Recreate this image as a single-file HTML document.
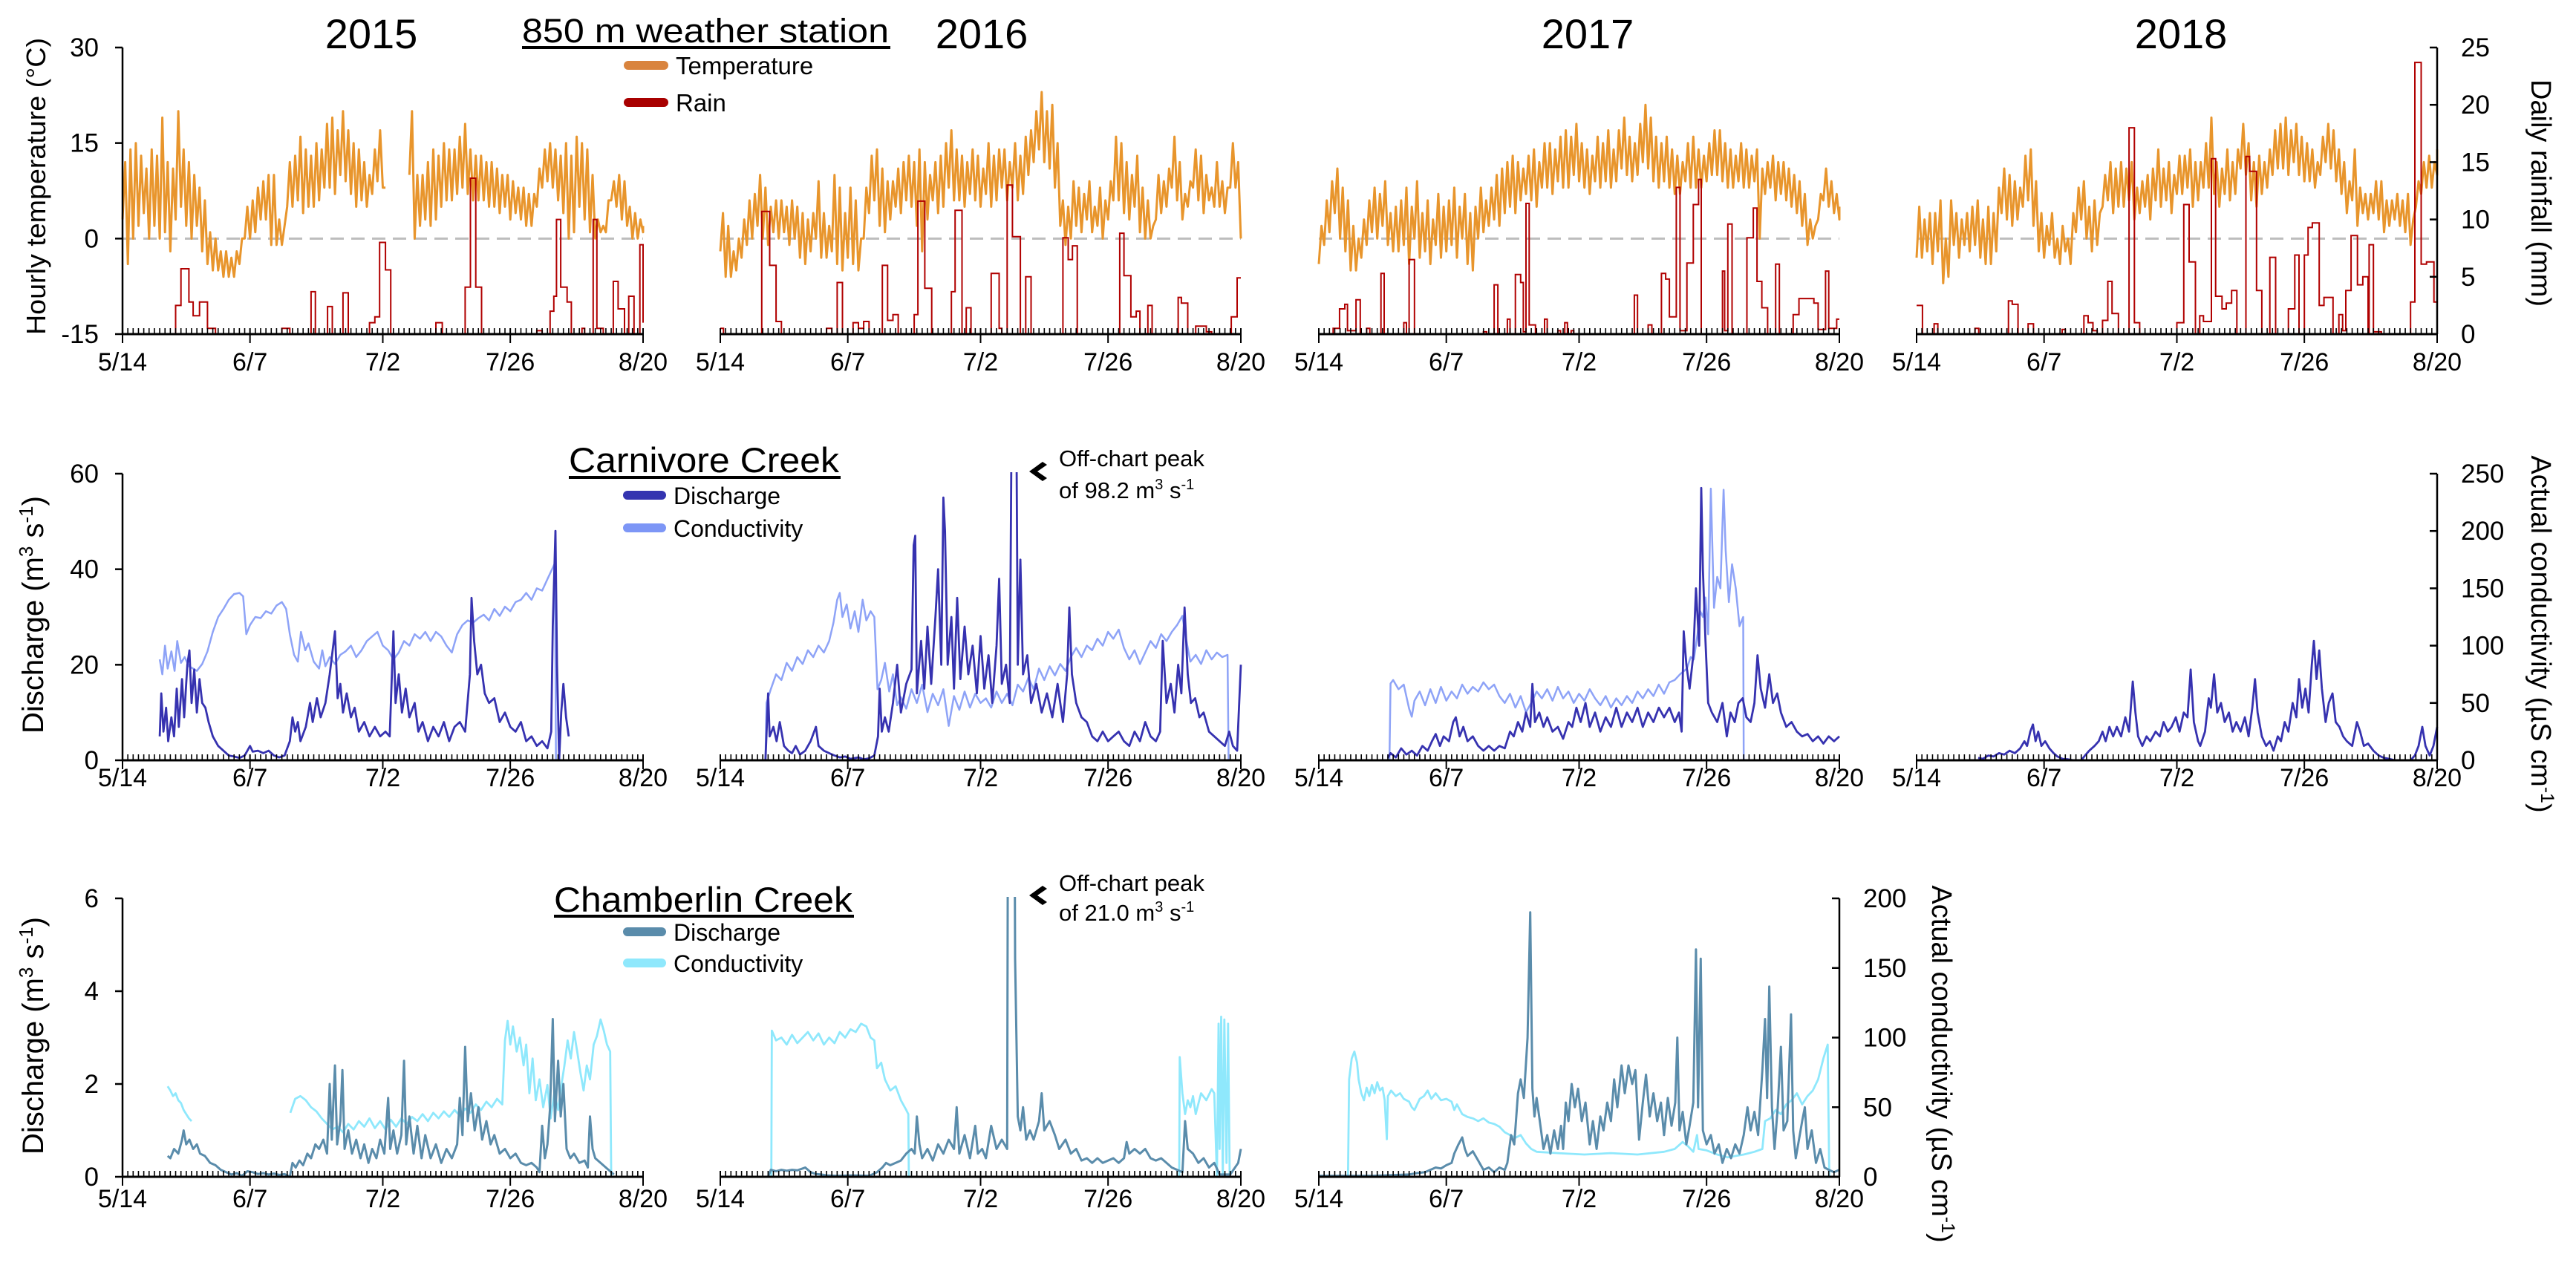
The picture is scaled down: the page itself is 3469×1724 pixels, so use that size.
<!DOCTYPE html>
<html><head><meta charset="utf-8">
<style>
html,body{margin:0;padding:0;background:#fff;}
svg{display:block;font-family:"Liberation Sans",Arial,sans-serif;}
</style></head>
<body>
<svg id="chart" width="3469" height="1724" viewBox="0 0 3469 1724" xmlns="http://www.w3.org/2000/svg">
<rect width="3469" height="1724" fill="#fff"/>
<g id="static">
<text x="500" y="65" font-size="56" text-anchor="middle">2015</text>
<text x="1322" y="65" font-size="56" text-anchor="middle">2016</text>
<text x="2138" y="65" font-size="56" text-anchor="middle">2017</text>
<text x="2937" y="65" font-size="56" text-anchor="middle">2018</text>
<text x="703" y="57" font-size="45" textLength="494" lengthAdjust="spacingAndGlyphs">850 m weather station</text>
<rect x="703" y="62" width="496" height="4" fill="#000"/>
<rect x="840" y="82" width="60" height="12" rx="6" fill="#d9843e"/>
<text x="910" y="100" font-size="33">Temperature</text>
<rect x="840" y="132" width="60" height="12" rx="6" fill="#a80000"/>
<text x="910" y="150" font-size="33">Rain</text>

<text x="766" y="636" font-size="47" textLength="364" lengthAdjust="spacingAndGlyphs">Carnivore Creek</text>
<rect x="766" y="641" width="366" height="4" fill="#000"/>
<rect x="839" y="661" width="58" height="12" rx="6" fill="#3434b0"/>
<text x="907" y="679" font-size="32">Discharge</text>
<rect x="839" y="705" width="58" height="12" rx="6" fill="#7d96f6"/>
<text x="907" y="723" font-size="32">Conductivity</text>
<polygon points="1404,622 1386,635 1404,648 1410,644 1397,635 1410,626" fill="#000"/>
<text x="1426" y="628" font-size="31">Off-chart peak</text>
<text x="1426" y="671" font-size="31">of 98.2 m<tspan font-size="20" dy="-12">3</tspan><tspan dy="12"> s</tspan><tspan font-size="20" dy="-12">-1</tspan></text>

<text x="746" y="1228" font-size="47" textLength="402" lengthAdjust="spacingAndGlyphs">Chamberlin Creek</text>
<rect x="746" y="1232" width="404" height="4" fill="#000"/>
<rect x="839" y="1249" width="58" height="12" rx="6" fill="#5a8cab"/>
<text x="907" y="1267" font-size="32">Discharge</text>
<rect x="839" y="1291" width="58" height="12" rx="6" fill="#8fe8fc"/>
<text x="907" y="1309" font-size="32">Conductivity</text>
<polygon points="1404,1193 1386,1206 1404,1219 1410,1215 1397,1206 1410,1197" fill="#000"/>
<text x="1426" y="1200" font-size="31">Off-chart peak</text>
<text x="1426" y="1240" font-size="31">of 21.0 m<tspan font-size="20" dy="-12">3</tspan><tspan dy="12"> s</tspan><tspan font-size="20" dy="-12">-1</tspan></text>

<text transform="translate(61,251) rotate(-90)" font-size="36" text-anchor="middle" textLength="400" lengthAdjust="spacingAndGlyphs">Hourly temperature (°C)</text>
<text transform="translate(58,828) rotate(-90)" font-size="40" text-anchor="middle">Discharge (m<tspan font-size="26" dy="-14">3</tspan><tspan dy="14"> s</tspan><tspan font-size="26" dy="-14">-1</tspan><tspan dy="14">)</tspan></text>
<text transform="translate(58,1395) rotate(-90)" font-size="40" text-anchor="middle">Discharge (m<tspan font-size="26" dy="-14">3</tspan><tspan dy="14"> s</tspan><tspan font-size="26" dy="-14">-1</tspan><tspan dy="14">)</tspan></text>
<text transform="translate(3409,260) rotate(90)" font-size="38" text-anchor="middle">Daily rainfall (mm)</text>
<text transform="translate(3409,854) rotate(90)" font-size="38" text-anchor="middle">Actual conductivity (µS cm<tspan font-size="25" dy="-13">-1</tspan><tspan dy="13">)</tspan></text>
<text transform="translate(2602,1433) rotate(90)" font-size="38" text-anchor="middle">Actual conductivity (µS cm<tspan font-size="25" dy="-13">-1</tspan><tspan dy="13">)</tspan></text>
</g>
<g id="plots"></g>
</svg>
<script>
// ---------- axis data ----------
const dateTickDays = [0, 24, 49, 73, 98];
const dateTickLabels = ["5/14", "6/7", "7/2", "7/26", "8/20"];
const tempTicks = [-15, 0, 15, 30];
const rainTicks = [0, 5, 10, 15, 20, 25];
const carnDischargeTicks = [0, 20, 40, 60];
const carnCondTicks = [0, 50, 100, 150, 200, 250];
const chamDischargeTicks = [0, 2, 4, 6];
const chamCondTicks = [0, 50, 100, 150, 200];

// ---------- temperature: daily high / low (°C), day 0 = 5/14 ----------
const tempHi2015 = [12,14,15,13,11,14,13,19,12,11,20,14,12,10,8,6, 1,0,-2,-2,-3,-2,0, 5,6,8,9,10,10,3,2, 12,13,16,14,13,15,14,18,19, 17,20,17,15,14,12,10,14,17,8, null,null,null,null, 20,10,10,12,14,13,15,14,14,16,18,14,13, 13,12,12,11,10,10,9,8,8,7,7,11, 14,15,14,13,15,13,16,15,14,10, 3,2,6,9,10,9,5,4,3,2];
const tempLo2015 = [3,-4,0,2,4,0,2,0,1,-2,3,5,2,0,2,-2, -4,-5,-5,-6,-6,-6,-4, 0,0,1,3,3,-1,-1,-1, 5,5,6,4,5,5,6,8,8, 7,10,9,7,5,6,5,7,9,8, null,null,null,null, 10,0,2,3,2,3,5,6,6,7,8,7,6, 6,6,5,5,4,5,3,4,3,2,2,5, 8,9,8,6,4,0,1,5,3,1, 0,1,1,6,5,3,2,0,0,1];
const tempHi2016 = [4,2,-2,0,3, 6,7,10,8,5,6,6,5,6,5, 4,3,4,9,4,2, 10,8,4,8,6,0, 8,13,14,11,9,9,11,12, 13,12,14,12,10,12,13,15,17,14, 13,12,14,13,11,15,13,14,14,12, 15,13,16,17,20,23,20,21,15, 6,5,9,8,7,9,5,8,6,9,16, 15,12,10,13,8,6,2,10,9,11, 16,12,7,9,14,13,10,8,12,9,8,15,12,0];
const tempLo2016 = [-2,-6,-6,-5,-3, -1,0,2,0,-1,1,0,1,-1,0, -3,-4,-2,0,-3,-3, -2,-4,-5,-3,-4,-5, 0,4,6,2,1,3,5,4, 6,5,2,-2,3,6,4,5,8,6, 6,5,7,6,5,7,5,6,8,6, 8,6,7,10,12,14,12,11,8, 2,-1,0,2,1,3,1,2,0,3,6, 6,4,3,5,1,0,0,3,4,5, 8,6,3,5,8,6,4,6,5,5,4,8,8,0];
const tempHi2017 = [2,6,9,11, 8,6,2,0,3,6,8,7,9,4,5, 6,8,5,9,4,6,3,7,5,6, 8,5,7,4,5,8, 6,8,10,11,12,13,12,11,13,14,12,15, 15,14,16,17,16,18,15,14,13,16,15,17, 14,17,19,16,15,18,21,19,16,15,16, 14,13,12,15,16,14,13,15,17,17, 15,14,13,15,14,13,14,11,12,13, 12,12,11,10,9,7,3,2,7,11,9,7,5];
const tempLo2017 = [-4,-1,1,4, 0,-2,-5,-5,-3,-1,1,0,2,-1,-2, -2,-1,-4,0,-3,-2,-4,-1,-3,-2, -1,-3,0,-4,-5,0, 1,2,3,2,4,5,4,6,7,6,5,8, 8,7,9,8,8,10,9,8,7,9,8,9, 8,9,11,10,9,10,12,11,9,8,9, 8,7,7,9,8,8,8,9,10,10, 9,8,8,9,8,8,9,0,7,8, 6,7,6,5,4,2,-1,0,3,6,5,4,3];
const tempHi2018 = [5,3,4,4,6,0,6,4,3,4,5,6,3,5,4, 8,11,10,9,8,13,14,9, 4,2,4,0,2,0,4, 8,9,5,6,4, 10,12,11,12,11,12,8,9,10,11, 14,11,12,10,13,13,14,12,12,15, 19,12,11,14,12,14,18,15,12, 13,12,14,17,18,19,17,18,16, 15,14,12,16,18,17,14,12, 9,14,8,7,7,9,9,6, 6,7,6,7,3, 9,12,13,12,14];
const tempLo2018 = [-3,-3,-2,-4,-2,-7,-6,-1,-3,-1,-2,-1,-3,-4,-4, -2,4,3,2,3,5,6,2, -2,-3,-1,-3,-4,-2,-4, 1,3,0,-2,-1, 5,6,4,5,5,6,3,4,5,3, 6,5,6,4,7,7,8,5,6,8, 8,7,5,7,6,7,11,10,6, 5,7,8,10,11,11,10,12,10, 9,9,8,10,12,11,9,7, 4,6,2,4,3,4,3,1, 2,3,2,1,-1, 5,7,8,8,10];

// ---------- rain: [start day, daily rainfall mm] steps ----------
const rain2015 = [[0,0],[10,2.5],[11,5.7],[12.5,2.8],[13.3,1.6],[14.5,2.8],[16,0.5],[17.5,0],[30,0.5],[31.5,0],[35.5,3.7],[36.3,0],[38.6,2.4],[39.5,0],[41.5,3.6],[42.5,0],[46.5,1],[47.5,1.5],[48.4,8],[49.5,5.6],[50.5,0],[59,1],[60.2,0],[64.5,4.1],[65.5,13.6],[66.5,4.1],[67.6,0],[78,0.3],[79,0],[80.5,2],[81.2,3.3],[81.7,10],[82.5,4.1],[83.7,2.8],[84.5,0],[86.5,0.5],[87,0],[88.6,10],[89.3,0.5],[90.5,0],[92.4,4.6],[93.3,2.2],[94.5,0],[95.3,3.3],[96.3,0],[97.4,7.8],[98,1]];
const rain2016 = [[0,0.5],[0.6,0],[7.8,10.7],[9.3,6],[10.5,1.1],[11.5,0],[20,0.5],[21,0],[22,4.5],[23,0],[25,1],[26,0.5],[27,1.1],[28,0],[30.5,6],[31.5,1.2],[32.5,1.7],[33.5,0],[36.5,1.7],[37.2,11.6],[38.5,4],[39.8,0],[43.5,3.7],[44.2,10.8],[45.5,0],[46.3,2.3],[47.2,0],[51,5.3],[52.5,0.5],[53,0],[54,13],[55,8.5],[56.5,0],[57.5,5],[58.5,0],[64.5,8.4],[65.5,6.5],[66.3,7.7],[67.2,0],[75.2,8.8],[76,5.1],[77.3,1.5],[78.3,2],[79,0],[80.5,2.5],[81.3,0],[86.2,3.2],[86.8,2.7],[88,0],[89.5,0.7],[91.5,0.2],[92.5,0],[96.2,1.5],[97.3,4.9],[98,4.9]];
const rain2017 = [[0,0],[2.7,0.5],[3.9,2.2],[4.9,2.6],[5.4,0.3],[7,3],[7.8,0],[9,0.5],[9.6,0],[11.7,5.3],[12.3,0],[16,1],[16.5,0],[17,6.5],[18,0],[31,0.2],[31.6,0],[33,4.3],[33.7,0],[35.5,1.3],[36,0],[37,5.2],[38,4.5],[38.5,0.2],[39,11.4],[39.6,0.8],[40.8,0],[42.5,1.3],[43,0],[45,0.3],[45.5,0],[46.3,1],[46.8,0],[47.5,0.3],[48,0],[59.4,3.4],[60,0],[62,0.8],[62.7,0],[64.5,5.3],[65.3,4.8],[66,1.5],[67.3,12.8],[68,0.3],[69.3,6.2],[70.5,11.3],[71.5,13.5],[72,0],[76,5.5],[76.4,0.3],[77,9.6],[77.8,0],[80.6,8.4],[81.8,11],[82.5,4.6],[83.4,2.3],[84.5,0],[86,6.1],[86.7,0],[89.3,1.7],[90.4,3.1],[93.2,2.7],[94,0.4],[95.4,5.5],[96,0.5],[97.5,1.3],[98,1.3]];
const rain2018 = [[0,2.5],[1.1,0],[3.3,0.9],[4,0],[11,0.5],[11.7,0],[17.3,2.9],[18,2.6],[19.1,0],[21,0.9],[22,0],[27.4,0.4],[28,0],[31.5,1.6],[32.3,1],[33.2,0.3],[34,0],[35,1.2],[36,4.6],[36.8,1.8],[38,0],[40,18],[41,1],[42,0],[49,1],[50.3,11.3],[51.3,6.3],[52.5,0],[53.3,1.6],[54,1.1],[55.5,15.3],[56.3,3.3],[57.5,2.2],[58.3,2.7],[59.3,3.8],[60.3,0],[62,15.5],[62.7,14.2],[64,3.8],[65,0],[66.5,6.7],[67.6,0],[70,2.2],[71.2,6.9],[72,0],[73,6.9],[73.7,9.3],[74.5,9.7],[75.8,2.5],[76.7,3.2],[78.4,0],[79.5,1.7],[80.2,0.3],[80.8,3.8],[81.8,8.6],[83,4.3],[84,5],[85,0],[85.2,7.8],[86,0.2],[87.5,0],[93,2.8],[93.8,23.7],[95,6.1],[96,6.3],[97.4,2.8],[98,2.8]];

// ---------- Carnivore Creek: [day, discharge m3/s] and [day, conductivity µS/cm] ----------
const carnQ2015 = [[7,5],[7.3,14],[7.7,6],[8.2,11],[8.6,4],[9.2,9],[9.7,5],[10.2,15],[10.6,7],[11.2,17],[11.6,9],[12.2,20],[12.6,23],[13,12],[13.5,19],[14,10],[14.5,17],[15,12],[15.6,11],[16.2,8],[17,5],[18,3],[19,2],[20,1],[21,0.8],[22,0.5],[23,1],[24,3],[24.5,1.8],[25.5,2],[26.5,1.5],[27.5,2],[28.5,1],[29.5,0.6],[30.5,1],[31.5,4],[32,9],[32.5,6],[33,8],[33.5,4],[34.5,7],[35.3,12],[35.8,8],[36.6,13],[37.3,9],[38.2,12],[39,18],[40,27],[40.5,13],[41,16],[41.5,10],[42.2,14],[43,9],[43.7,11],[44.5,6],[45.5,8],[46.5,5],[47.5,7],[48.5,5],[49.5,6],[50.3,5],[51,27],[51.4,12],[52,18],[52.6,10],[53.3,15],[54,9],[55,12],[55.7,6],[56.5,8],[57.5,4],[58.5,7],[59.5,5],[60.5,8],[61.5,4],[62.5,7],[63.5,8],[64.5,6],[65.4,18],[65.7,34],[66.2,25],[66.8,18],[67.5,20],[68.2,14],[69,12],[70,13],[71,8],[72,10],[73,7],[74,6],[75,8],[76,4],[77,5],[78,3],[79,4],[80,2.5],[80.7,6],[81,28],[81.5,48],[81.8,20],[82.2,0],[82.6,10],[83,16],[83.5,9],[84,5]];
const carnC2015 = [[7,88],[7.5,75],[8,100],[8.5,80],[9.2,95],[9.8,78],[10.3,104],[11,85],[11.7,90],[12.5,82],[13.3,80],[14,78],[15,84],[16,95],[17,112],[18,125],[19,132],[20,140],[21,145],[22,146],[22.7,143],[23.3,110],[24,118],[25,125],[26,124],[27,130],[28,128],[29,135],[30,138],[30.8,132],[31.5,110],[32.3,92],[33,86],[33.6,112],[34.4,96],[35,102],[36,86],[37,80],[37.6,96],[38.2,82],[39,90],[40,84],[41,92],[42,95],[43,100],[44,90],[45,96],[46,104],[47,108],[48,112],[49,100],[50,96],[51,88],[52,94],[53,104],[54,100],[55,110],[56,106],[57,112],[58,104],[59,112],[60,108],[61,100],[62,94],[63,110],[64,118],[65,122],[66,120],[67,124],[68,127],[69,122],[70,132],[71,126],[72,134],[73,130],[74,138],[75,140],[76,146],[77,140],[78,150],[79,148],[80,158],[81,168],[81.4,172],[81.6,0],[98,0]];
const carnQ2016 = [[0,0],[8.5,0],[9,14],[9.3,5],[10,7],[10.6,4],[11.2,8],[12,3],[12.8,2],[13.5,1.5],[14.2,3],[15,1.2],[16,2],[17,4],[18,7],[18.5,3],[19.5,2],[20.5,1.5],[21.5,1],[22.5,0.6],[23.5,0.8],[24.5,0.3],[26,0.6],[27,0.2],[28,0.4],[29,1],[29.7,5],[30,15],[30.4,6],[31,9],[31.7,6],[32.5,12],[33.3,20],[34,10],[35,16],[36,19],[36.4,45],[36.7,47],[37,14],[37.8,25],[38.4,15],[39,28],[39.7,16],[40.5,30],[41,40],[41.6,20],[42,55],[42.3,48],[42.8,20],[43.5,30],[44,15],[44.6,34],[45.2,17],[46,28],[46.7,18],[47.5,24],[48.3,14],[49,26],[49.7,15],[50.5,22],[51.2,12],[52,24],[52.5,38],[53,16],[53.8,20],[54.5,12],[55,98.2],[55.6,98.2],[56,20],[56.5,42],[57,18],[57.8,22],[58.5,12],[59.5,16],[60.5,10],[61.5,14],[62.5,9],[63.5,16],[64.5,8],[65.3,18],[65.7,32],[66.2,18],[67,12],[68,9],[69,8],[70,5],[71,4],[72,6],[73,4],[74,5],[75,6],[76,4],[77,3],[78,6],[79,4],[80,8],[81,5],[82,4],[82.8,6],[83.3,25],[84,12],[84.8,16],[85.5,10],[86.2,20],[86.8,14],[87.4,32],[88,18],[88.6,12],[89.4,13],[90.2,9],[91,10],[92,6],[93,5],[94,4],[95,3],[95.8,6],[96.5,3],[97.3,2],[98,20]];
const carnC2016 = [[0,0],[8.5,0],[8.7,50],[9.5,62],[10.5,75],[11.5,70],[12.5,85],[13.5,78],[14.5,90],[15.5,84],[16.5,96],[17.5,90],[18.5,100],[19.5,94],[20.5,104],[21.3,120],[22,140],[22.5,146],[23,125],[23.8,136],[24.5,115],[25.3,130],[26,112],[26.8,140],[27.5,122],[28.3,130],[29,125],[29.6,62],[30.3,70],[31,85],[31.8,60],[32.5,75],[33.3,48],[34,55],[35,45],[36,62],[37,50],[38,66],[39,42],[40,58],[41,48],[42,62],[43,30],[44,56],[45,44],[46,60],[47,46],[48,58],[49,50],[50,54],[51,46],[52,60],[53,50],[54,58],[55,48],[56,66],[57,60],[58,72],[59,62],[60,80],[61,70],[62,82],[63,74],[64,84],[65,78],[66,90],[67,98],[68,90],[69,100],[70,96],[71,106],[72,100],[73,112],[74,106],[75,114],[76,98],[77,88],[78,96],[79,84],[80,94],[81,104],[82,98],[83,110],[84,104],[85,112],[86,118],[87,126],[87.6,108],[88.5,86],[89.5,92],[90.5,84],[91.5,96],[92.5,88],[93.5,94],[94.5,90],[95.5,92],[95.7,0],[98,0]];
const carnQ2017 = [[13,0.5],[13.5,1.5],[14.5,0.6],[15.5,2.5],[16.5,1.2],[17.5,2],[18.5,1],[19.5,3],[20.5,2],[21.3,4],[22,5.5],[22.8,3],[23.5,5],[24.5,4],[25.3,8],[25.8,9],[26.5,5],[27.2,7],[28,4],[29,5],[30,3],[31,2],[32,3],[33,2],[34,3],[35,2.5],[36,6],[36.7,5],[37.5,8],[38.3,6],[39,10],[39.8,7],[40.2,16],[40.7,8],[41.5,10],[42.3,7],[43,9],[44,6],[45,7],[46,4.5],[47,8],[47.7,7],[48.5,11],[49.3,8],[50.2,12],[51,7],[52,10],[53,6],[54,9],[55,7],[56,11],[57,7],[58,10],[59,8],[60,11],[61,7],[62,10],[63,8],[64,11],[65,9],[66,11],[67,8],[67.8,10],[68.3,6],[68.7,27],[69.2,20],[69.8,15],[70.5,22],[71,36],[71.6,24],[72,57],[72.3,40],[72.8,25],[73.3,12],[74,10],[75,8],[76,12],[76.8,5],[77.5,10],[78.3,8],[79,12],[79.8,13],[80.5,9],[81.3,8],[82,12],[82.6,22],[83.2,15],[84,11],[84.8,18],[85.5,12],[86.3,14],[87,10],[88,7],[89,8],[90,6],[91,5],[92,5.5],[93,4],[94,5],[95,3.5],[96,5],[97,4],[98,5]];
const carnC2017 = [[0,0],[13.3,0],[13.5,67],[14,70],[15,62],[16,66],[17,45],[17.5,38],[18,52],[19,60],[20,48],[21,62],[22,50],[23,64],[24,52],[25,60],[26,54],[27,66],[28,58],[29,64],[30,60],[31,68],[32,62],[33,66],[34,56],[35,50],[36,58],[37,46],[38,56],[39,42],[40,50],[41,60],[42,54],[43,62],[44,52],[45,64],[46,54],[47,60],[48,50],[49,58],[50,52],[51,62],[52,54],[53,48],[54,56],[55,46],[56,54],[57,48],[58,56],[59,50],[60,60],[61,54],[62,62],[63,56],[64,66],[65,58],[66,68],[67,70],[68,75],[69.3,80],[70,90],[70.6,88],[71.3,110],[71.8,130],[72.3,125],[72.8,142],[73.3,110],[73.8,237],[74.4,133],[75,160],[75.6,150],[76.2,236],[76.6,183],[77.2,138],[77.8,171],[78.5,150],[79.2,117],[79.9,125],[80,0],[98,0]];
const carnQ2018 = [[11.6,0.5],[12.5,0.3],[13.5,1],[14.5,0.8],[15.5,1.5],[16.5,1.2],[17.5,2],[18.5,1.5],[19.5,2.5],[20.3,4],[20.8,3],[21.4,6],[21.9,7.5],[22.4,4],[22.9,6],[23.5,3],[24.2,4],[25,2.5],[25.8,1.5],[26.5,0.8],[27.5,0.3],[28.5,0.2],[29.5,0],[31,0],[31.7,1],[32.5,2],[33.5,3],[34.3,4],[35,6],[35.6,4],[36.3,7],[37,5],[37.7,7],[38.5,5],[39.3,9],[40,6],[40.7,16.5],[41.2,10],[41.7,5],[42.5,3],[43.3,5],[44,4],[45,6],[45.8,5],[46.5,8],[47.3,6],[48,7],[48.8,9],[49.5,6],[50.3,10],[51,9],[51.6,19],[52.2,8],[53,4],[53.4,3],[54.3,6],[55,13],[55.4,11],[56,18],[56.6,10],[57.3,12],[58,8],[58.8,10],[59.5,6],[60.2,8],[61,6],[61.8,9],[62.5,5],[63.2,11],[63.7,17],[64.2,10],[65,5],[65.8,3],[66.5,4],[67.2,2],[68,5],[68.6,4],[69.3,8],[70,6],[70.8,12],[71.5,9],[72,17],[72.6,11],[73.2,15],[73.8,10],[74.4,20],[74.8,25],[75.3,17],[75.8,23],[76.3,15],[77,8],[77.6,12],[78.3,14],[78.9,8],[79.6,7],[80.3,5],[81,4],[82,3],[82.9,8],[83.5,6],[84.2,3],[85,3.5],[86,2],[87,1],[88,0.5],[89,0.3],[90,0],[93,0],[93.8,1],[94.5,3],[95.2,7],[95.8,3],[96.6,1],[97.3,3],[98,7]];

// ---------- Chamberlin Creek ----------
const chamQ2015 = [[8.5,0.45],[9,0.4],[9.7,0.6],[10.5,0.5],[11.2,0.8],[11.5,1.0],[12,0.7],[12.6,0.8],[13.3,0.6],[14,0.7],[14.6,0.5],[15.5,0.45],[16.5,0.3],[17.5,0.25],[18.5,0.15],[19.5,0.1],[20.5,0.05],[21.5,0.08],[22.5,0.02],[23.5,0.12],[24.5,0.1],[25.5,0.06],[26.5,0.08],[27.5,0.05],[28.5,0.07],[29.5,0.04],[30.5,0.06],[31.5,0],[32,0.3],[32.6,0.2],[33.3,0.35],[34,0.25],[34.8,0.5],[35.5,0.4],[36.3,0.7],[37,0.6],[37.8,0.8],[38.5,0.5],[39,2.0],[39.4,0.8],[40,2.4],[40.4,0.7],[41,1.2],[41.4,2.3],[41.8,0.6],[42.5,1.0],[43.2,0.5],[44,0.8],[44.8,0.4],[45.5,0.7],[46.3,0.3],[47,0.6],[47.8,0.4],[48.5,0.8],[49.3,0.5],[50,1.7],[50.4,0.6],[51,1.0],[51.7,0.5],[52.5,0.9],[53,2.5],[53.4,0.7],[54,1.3],[54.8,0.5],[55.5,1.1],[56.3,0.4],[57,0.9],[58,0.4],[59,0.7],[60,0.3],[61,0.6],[62,0.4],[63,0.7],[63.5,1.7],[64,0.9],[64.5,2.8],[65,1.2],[65.6,1.8],[66.3,1.0],[67,1.5],[67.7,0.8],[68.5,1.2],[69.3,0.7],[70,0.9],[71,0.5],[72,0.6],[73,0.4],[74,0.5],[75,0.3],[76,0.25],[77,0.3],[78,0.2],[78.5,0.1],[79,1.1],[79.5,0.4],[80,0.7],[80.5,1.5],[81,3.4],[81.4,1.2],[82,2.5],[82.5,1.3],[83,2.0],[83.6,0.6],[84.3,0.4],[85,0.5],[86,0.3],[87,0.35],[87.6,0.2],[88,1.3],[88.5,0.6],[89,0.4],[90,0.3],[91,0.2],[92,0.1],[92.5,0.05]];
const chamC2015 = [[8.5,65],[9,62],[9.5,58],[10,60],[10.5,55],[11,53],[11.5,48],[12,45],[12.5,42],[13,40],[13.2,null],[31.5,null],[31.6,46],[32.5,56],[33.5,58],[34.5,55],[35.5,50],[36.5,47],[37.5,42],[38.5,38],[39.5,34],[40.5,36],[41.5,32],[42.5,38],[43.5,34],[44.5,40],[45.5,36],[46.5,42],[47.5,35],[48.5,40],[49.5,34],[50.5,41],[51.5,36],[52.5,42],[53.5,38],[54.5,43],[55.5,40],[56.5,45],[57.5,40],[58.5,46],[59.5,42],[60.5,47],[61.5,43],[62.5,48],[63.5,44],[64.5,49],[65.5,46],[66.5,52],[67.5,48],[68.5,54],[69.5,50],[70.5,56],[71.5,52],[72,98],[72.5,112],[73,95],[73.5,108],[74.2,90],[74.8,100],[75.5,80],[76,95],[76.6,60],[77.2,85],[77.8,55],[78.5,70],[79.2,50],[80,66],[80.6,42],[81.3,60],[82,48],[82.6,65],[83.2,80],[83.8,98],[84.4,85],[85,104],[85.6,90],[86.2,75],[86.8,62],[87.4,80],[88,70],[88.7,95],[89.3,101],[90,113],[90.6,105],[91.2,95],[91.8,90],[92,0],[98,0]];
const chamQ2016 = [[0,0],[9,0],[9.5,0.15],[10.5,0.12],[11.5,0.15],[12.5,0.13],[13.5,0.15],[14.5,0.14],[15.5,0.18],[16,0.2],[17,0.1],[18,0.06],[19,0.05],[20,0.03],[22,0.02],[25,0.03],[28,0.02],[29.5,0.1],[30.5,0.2],[31.2,0.3],[32,0.25],[33,0.3],[34,0.35],[35,0.5],[36,0.6],[36.6,0.5],[37,1.3],[37.5,0.7],[38,0.4],[39,0.6],[40,0.35],[41,0.7],[42,0.5],[43,0.8],[44,0.6],[44.5,1.5],[45,0.5],[46,0.9],[47,0.4],[48,1.1],[48.5,0.5],[49.3,0.6],[50,0.4],[51,1.1],[52,0.6],[53,0.8],[54,0.6],[54.4,21.0],[55,21.0],[55.5,4.7],[56,1.3],[56.5,1.0],[57,1.5],[57.6,0.8],[58.3,1.0],[59,0.8],[60,1.2],[60.5,1.8],[61,1.0],[62,1.2],[63,0.9],[63.8,0.6],[65,0.8],[66,0.5],[67,0.6],[68,0.35],[69,0.4],[70,0.3],[71,0.4],[72,0.3],[73,0.35],[74,0.4],[75,0.3],[76,0.4],[76.5,0.75],[77,0.5],[78,0.6],[79,0.5],[80,0.6],[81,0.4],[82,0.35],[83,0.4],[84,0.3],[85,0.2],[86,0.15],[87,0.1],[87.5,1.2],[88,0.6],[89,0.5],[90,0.3],[91,0.4],[92,0.2],[93,0.3],[94,0.05],[96,0.05],[97.5,0.3],[98,0.6]];
const chamC2016 = [[0,0],[9.6,0],[9.7,105],[10.5,98],[11.5,100],[12.5,95],[13.5,102],[14.5,96],[15.5,100],[16.5,104],[17.5,98],[18.5,103],[19.5,95],[20.5,100],[21.5,96],[22.5,104],[23.5,100],[24.5,106],[25.5,104],[26.5,110],[27.5,108],[28.3,100],[29,98],[29.5,78],[30.3,82],[31,70],[32,62],[33,65],[34,55],[35,48],[35.4,45],[35.5,0],[86.4,0],[86.5,86],[87,60],[87.5,45],[88,55],[88.5,50],[89,58],[89.5,45],[90.5,60],[91.5,55],[92.5,63],[93,60],[93.5,0],[93.8,110],[94,20],[94.3,115],[94.6,0],[94.9,113],[95.3,10],[95.6,110],[95.9,0],[98,0]];
const chamQ2017 = [[0,0.02],[10,0.02],[17,0.05],[18.5,0.08],[20,0.1],[21,0.15],[22,0.2],[23,0.18],[24,0.25],[25,0.3],[25.5,0.5],[26.3,0.7],[27,0.85],[27.5,0.6],[28,0.45],[29,0.55],[30,0.35],[31,0.15],[32,0.2],[33,0.1],[34,0.2],[35,0.15],[35.5,0.3],[36.2,0.9],[36.8,0.7],[37.5,1.8],[38,2.1],[38.6,1.7],[39.3,3.0],[39.8,5.7],[40.2,1.9],[40.6,1.3],[41,1.7],[41.6,1.2],[42.3,0.6],[43,0.9],[43.6,0.5],[44.3,1.0],[45,0.6],[45.6,1.1],[46,0.6],[46.5,1.6],[47,1.2],[47.6,2.0],[48.2,1.5],[48.8,1.9],[49.5,1.2],[50.2,1.6],[51,0.7],[51.6,1.2],[52.3,0.6],[53,1.3],[53.6,1.0],[54.3,1.6],[55,1.2],[55.6,2.1],[56.2,1.5],[57,2.4],[57.6,1.8],[58.3,2.4],[59,2.0],[59.6,2.3],[60.3,0.8],[61,1.6],[61.6,2.2],[62.3,1.3],[63,1.8],[63.7,1.2],[64.4,1.6],[65,0.9],[65.7,1.7],[66.4,1.1],[67.1,1.6],[67.5,3.0],[67.9,1.0],[68.5,1.4],[69.2,0.7],[69.8,1.1],[70.5,1.6],[71,4.9],[71.4,1.5],[71.9,4.7],[72.3,1.0],[73,0.7],[73.8,0.9],[74.5,0.5],[75.3,0.7],[76,0.3],[76.8,0.6],[77.6,0.4],[78.4,0.7],[79.2,0.5],[80,0.9],[80.7,1.5],[81.3,1.0],[82,1.4],[82.7,0.9],[83.5,2.3],[84,3.4],[84.4,1.7],[84.8,4.1],[85.3,1.5],[85.8,0.6],[86.4,1.5],[87,2.8],[87.5,1.0],[88.2,1.2],[88.9,3.5],[89.3,1.0],[89.8,0.4],[90.4,0.8],[91,1.2],[91.5,1.5],[92,0.6],[92.8,1.0],[93.6,0.3],[94.4,0.6],[95.2,0.2],[96,0.15],[97,0.1],[98,0.15]];
const chamC2017 = [[0,0],[5.5,0],[5.7,70],[6.2,85],[6.7,90],[7.2,82],[7.5,70],[8,60],[8.5,55],[9,64],[9.5,58],[10,66],[10.5,60],[11,68],[11.5,62],[12,64],[12.4,55],[12.8,27],[13,58],[13.6,62],[14.5,58],[15.3,60],[16,56],[17,54],[17.5,50],[18,48],[19,56],[19.8,58],[20.5,62],[21.2,56],[22,60],[23,55],[24,56],[25,54],[25.5,48],[26,52],[27,45],[28,43],[29,42],[30,40],[31,42],[32,39],[33,38],[34,36],[35,32],[36,30],[37,28],[38,30],[39,24],[40,20],[41,18],[45,17],[50,16],[55,17],[60,16],[65,18],[67,20],[68.5,25],[69.5,22],[70.5,18],[71.2,30],[71.5,20],[73,19],[75,16],[77,14],[80,16],[82,18],[83.5,20],[84,40],[85,42],[86,48],[87,45],[88,52],[89,55],[90,60],[91,52],[92,58],[93,62],[94,70],[95,85],[95.8,95],[96.1,0],[98,0]];

// ---------- layout ----------
const NS = "http://www.w3.org/2000/svg";
const plots = document.getElementById("plots");
const PANEL_LEFT = [165, 970, 1776, 2581];
const PANEL_W = 701;
const ROWS = [{top:64,bot:450},{top:638,bot:1024},{top:1210,bot:1585}];
const YEARS = ["2015","2016","2017","2018"];

function mk(tag, attrs, parent){
  const e = document.createElementNS(NS, tag);
  for (const k in attrs) e.setAttribute(k, attrs[k]);
  (parent||plots).appendChild(e);
  return e;
}
function xScale(p){ return d => PANEL_LEFT[p] + d/98*PANEL_W; }
function yScale(r, min, max){ const R = ROWS[r]; return v => R.bot - (v-min)/(max-min)*(R.bot-R.top); }

function clipFor(r,p){
  const id = "clip"+r+"_"+p;
  let defs = document.getElementById("defs");
  if(!defs){ defs = mk("defs",{id:"defs"}); }
  const cp = mk("clipPath",{id:id},defs);
  mk("rect",{x:PANEL_LEFT[p]-2,y:ROWS[r].top-2,width:PANEL_W+4,height:ROWS[r].bot-ROWS[r].top+4},cp);
  return "url(#"+id+")";
}

function drawPairs(pairs, xs, ys, color, width, clip, name){
  let d = ""; let pen = false;
  for (const [t,v] of pairs){
    if (v === null){ pen = false; continue; }
    d += (pen ? "L" : "M") + xs(t).toFixed(1) + "," + ys(v).toFixed(1);
    pen = true;
  }
  const el = mk("path",{d:d,fill:"none",stroke:color,"stroke-width":width,"stroke-linejoin":"round","clip-path":clip});
  
  
  return el;
}

function drawTemp(hi, lo, xs, ys, clip, name){
  let d = ""; let pen = false;
  for (let i=0;i<hi.length;i++){
    if (hi[i]===null || lo[i]===null){ pen=false; continue; }
    d += (pen?"L":"M") + xs(i).toFixed(1)+","+ys(lo[i]).toFixed(1);
    pen = true;
    const t2 = Math.min(i+0.5, 98);
    d += "L" + xs(t2).toFixed(1)+","+ys(hi[i]).toFixed(1);
  }
  const el = mk("path",{d:d,fill:"none",stroke:"#e8952c","stroke-width":3,"stroke-linejoin":"round","clip-path":clip});
  
  
}

function drawSteps(steps, xs, ys, clip, name){
  let d = "";
  for (let i=0;i<steps.length;i++){
    const [t,v] = steps[i];
    const tn = i+1<steps.length ? steps[i+1][0] : 98;
    d += (i===0?"M":"L") + xs(t).toFixed(1)+","+ys(v).toFixed(1) + "L"+xs(tn).toFixed(1)+","+ys(v).toFixed(1);
  }
  const el = mk("path",{d:d,fill:"none",stroke:"#b00000","stroke-width":2,"clip-path":clip});
  
  
}

function dateAxis(r,p){
  const xs = xScale(p); const y = ROWS[r].bot;
  const g = mk("g",{});
  
  
  mk("line",{x1:xs(0),x2:xs(98),y1:y,y2:y,stroke:"#000","stroke-width":3},g);
  for (let d=1; d<98; d++) mk("line",{x1:xs(d),x2:xs(d),y1:y,y2:y-8,stroke:"#000","stroke-width":1.6},g);
  const labelY = [499,1059,1626][r];
  dateTickDays.forEach((d,i)=>{
    mk("line",{x1:xs(d),x2:xs(d),y1:y-8,y2:y+12,stroke:"#000","stroke-width":2},g);
    const t = mk("text",{x:xs(d),y:labelY,"font-size":34,"text-anchor":"middle"},g);
    t.textContent = dateTickLabels[i];
    
    
  });
}

function valueAxis(r, x, ticks, ys, side, name){
  const g = mk("g",{});
  
  
  mk("line",{x1:x,x2:x,y1:ROWS[r].top,y2:ROWS[r].bot,stroke:"#000","stroke-width":2.5},g);
  ticks.forEach(v=>{
    const y = ys(v);
    mk("line",{x1:x-10,x2:x,y1:y,y2:y,stroke:"#000","stroke-width":2.5},g);
    const t = side==="left"
      ? mk("text",{x:x-32,y:y+12,"font-size":35,"text-anchor":"end"},g)
      : mk("text",{x:x+32,y:y+12,"font-size":35,"text-anchor":"start"},g);
    t.textContent = String(v);
    
    
  });
}

// ---------- row 1: weather ----------
const tempHiAll = [tempHi2015,tempHi2016,tempHi2017,tempHi2018];
const tempLoAll = [tempLo2015,tempLo2016,tempLo2017,tempLo2018];
const rainAll = [rain2015,rain2016,rain2017,rain2018];
const yT = yScale(0,-15,30), yR = yScale(0,0,25);
for (let p=0;p<4;p++){
  const xs = xScale(p); const clip = clipFor(0,p);
  const z = mk("line",{x1:xs(0),x2:xs(98),y1:yT(0),y2:yT(0),stroke:"#bdbdbd","stroke-width":3,"stroke-dasharray":"18 10"});
  
  
  drawTemp(tempHiAll[p], tempLoAll[p], xs, yT, clip, 'temperature-line-'+YEARS[p]);
  drawSteps(rainAll[p], xs, yR, clip, 'rain-line-'+YEARS[p]);
  dateAxis(0,p);
}
valueAxis(0, PANEL_LEFT[0], tempTicks, yT, "left", "y-axis-temperature");
valueAxis(0, PANEL_LEFT[3]+PANEL_W, rainTicks, yR, "right", "y2-axis-rainfall");

// ---------- row 2: Carnivore Creek ----------
const carnQAll = [carnQ2015,carnQ2016,carnQ2017,carnQ2018];
const carnCAll = [carnC2015,carnC2016,carnC2017,null];
const yQ1 = yScale(1,0,60), yC1 = yScale(1,0,250);
for (let p=0;p<4;p++){
  const xs = xScale(p); const clip = clipFor(1,p);
  if (carnCAll[p]) drawPairs(carnCAll[p], xs, yC1, "#8ea3f7", 2.5, clip, 'carnivore-conductivity-'+YEARS[p]);
  drawPairs(carnQAll[p], xs, yQ1, "#3632b0", 2.8, clip, 'carnivore-discharge-'+YEARS[p]);
  dateAxis(1,p);
}
valueAxis(1, PANEL_LEFT[0], carnDischargeTicks, yQ1, "left", "y-axis-carnivore-discharge");
valueAxis(1, PANEL_LEFT[3]+PANEL_W, carnCondTicks, yC1, "right", "y2-axis-carnivore-conductivity");

// ---------- row 3: Chamberlin Creek ----------
const chamQAll = [chamQ2015,chamQ2016,chamQ2017];
const chamCAll = [chamC2015,chamC2016,chamC2017];
const yQ2 = yScale(2,0,6), yC2 = yScale(2,0,200);
for (let p=0;p<3;p++){
  const xs = xScale(p); const clip = clipFor(2,p);
  drawPairs(chamCAll[p], xs, yC2, "#8fe8fc", 2.8, clip, 'chamberlin-conductivity-'+YEARS[p]);
  drawPairs(chamQAll[p], xs, yQ2, "#5a8cab", 3, clip, 'chamberlin-discharge-'+YEARS[p]);
  dateAxis(2,p);
}
valueAxis(2, PANEL_LEFT[0], chamDischargeTicks, yQ2, "left", "y-axis-chamberlin-discharge");
valueAxis(2, PANEL_LEFT[2]+PANEL_W, chamCondTicks, yC2, "right", "y2-axis-chamberlin-conductivity");
</script>
</body></html>
